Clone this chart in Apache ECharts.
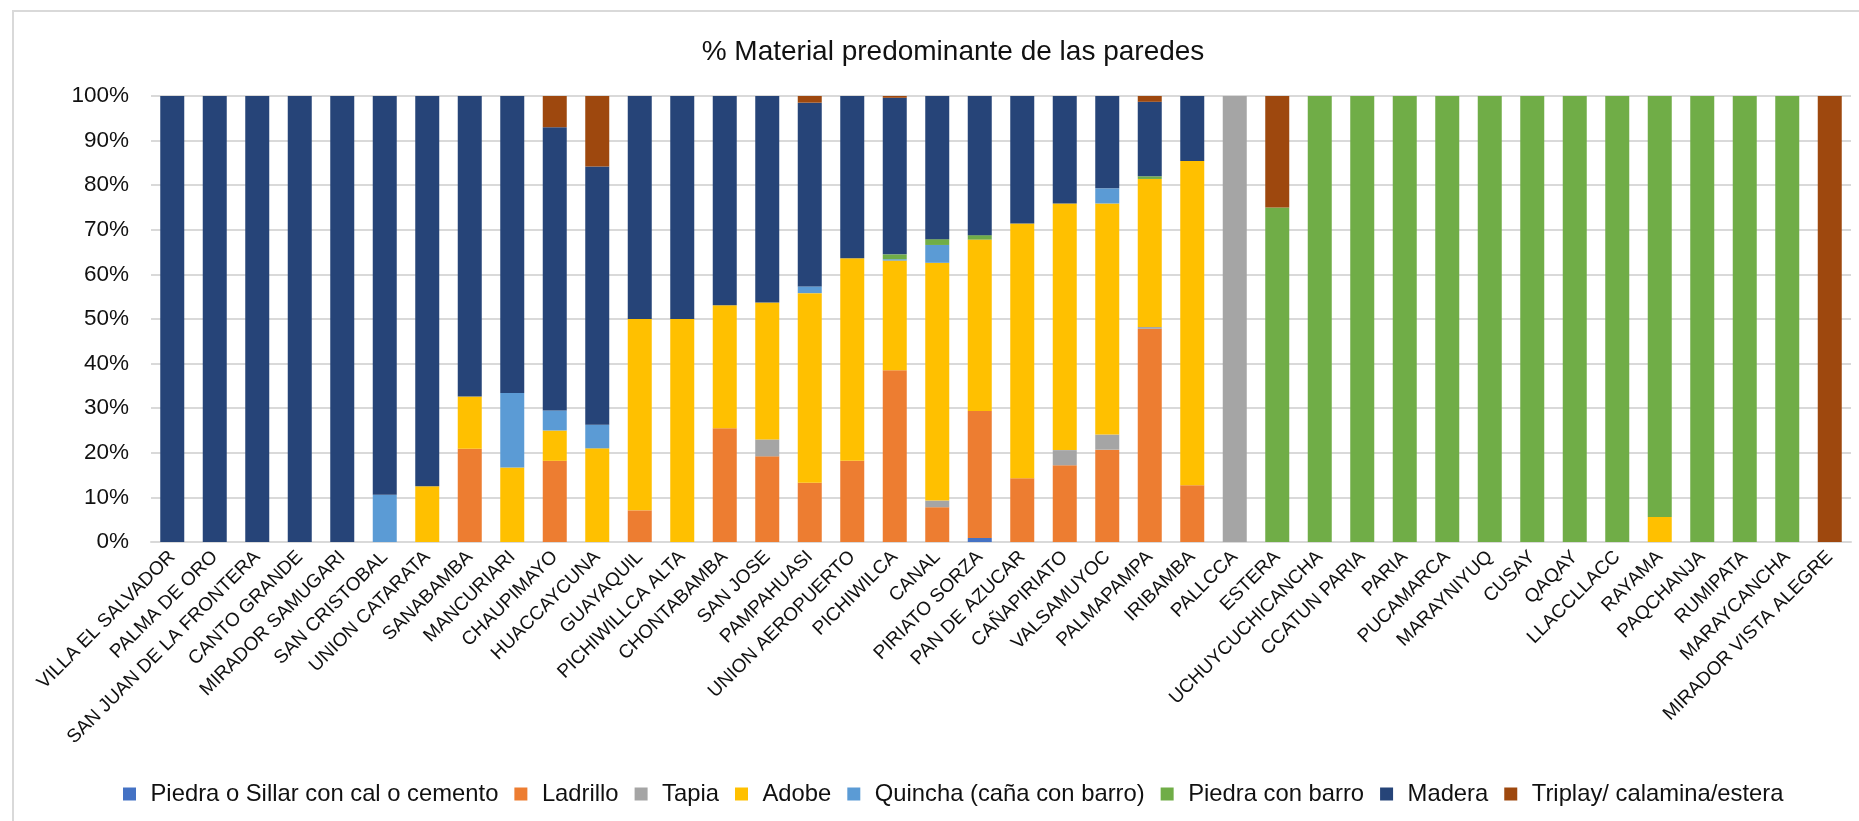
<!DOCTYPE html>
<html>
<head>
<meta charset="utf-8">
<title>% Material predominante de las paredes</title>
<script src="https://cdn.jsdelivr.net/npm/echarts@6/dist/echarts.min.js"></script>
<style>
  html, body { margin: 0; padding: 0; background: #fff; }
  #wrap { position: relative; width: 1859px; height: 821px; }
  #chart { width: 1859px; height: 821px; }
  #frame { position: absolute; left: 12px; top: 10px; right: 0; bottom: 0;
           border-top: 2px solid #d9d9d9; border-left: 2px solid #d9d9d9; pointer-events: none; }
</style>
</head>
<body>
<div id="wrap">
  <div id="chart"></div>
  <div id="frame"></div>
</div>
<script>
// categorias (localidades)
var categorias = ['VILLA EL SALVADOR', 'PALMA DE ORO', 'SAN JUAN DE LA FRONTERA', 'CANTO GRANDE',
  'MIRADOR SAMUGARI', 'SAN CRISTOBAL', 'UNION CATARATA', 'SANABAMBA', 'MANCURIARI', 'CHAUPIMAYO',
  'HUACCAYCUNA', 'GUAYAQUIL', 'PICHIWILLCA ALTA', 'CHONTABAMBA', 'SAN JOSE', 'PAMPAHUASI',
  'UNION AEROPUERTO', 'PICHIWILCA', 'CANAL', 'PIRIATO SORZA', 'PAN DE AZUCAR', 'CAÑAPIRIATO',
  'VALSAMUYOC', 'PALMAPAMPA', 'IRIBAMBA', 'PALLCCA', 'ESTERA', 'UCHUYCUCHICANCHA', 'CCATUN PARIA',
  'PARIA', 'PUCAMARCA', 'MARAYNIYUQ', 'CUSAY', 'QAQAY', 'LLACCLLACC', 'RAYAMA', 'PAQCHANJA',
  'RUMIPATA', 'MARAYCANCHA', 'MIRADOR VISTA ALEGRE'];

// porcentajes por material (mismo orden que categorias)
var piedraSillar = [0,0,0,0,0,0,0,0,0,0, 0,0,0,0,0,0,0,0,0,0.9, 0,0,0,0,0,0,0,0,0,0, 0,0,0,0,0,0,0,0,0,0];
var ladrillo     = [0,0,0,0,0,0,0,20.9,0,18.2, 0,7.1,0,25.5,19.2,13.3,18.2,38.5,7.8,28.5, 14.3,17.2,20.7,47.8,12.7,0,0,0,0,0, 0,0,0,0,0,0,0,0,0,0];
var tapia        = [0,0,0,0,0,0,0,0,0,0, 0,0,0,0,3.8,0,0,0,1.5,0, 0,3.4,3.4,0.4,0,100,0,0,0,0, 0,0,0,0,0,0,0,0,0,0];
var adobe        = [0,0,0,0,0,0,12.5,11.7,16.7,6.8, 21.0,42.9,50,27.6,30.7,42.5,45.4,24.6,53.3,38.4, 57.1,55.3,51.8,33.2,72.7,0,0,0,0,0, 0,0,0,0,0,5.6,0,0,0,0];
var quincha      = [0,0,0,0,0,10.6,0,0,16.7,4.5, 5.3,0,0,0,0,1.5,0,0.3,4.0,0, 0,0,3.4,0,0,0,0,0,0,0, 0,0,0,0,0,0,0,0,0,0];
var piedraBarro  = [0,0,0,0,0,0,0,0,0,0, 0,0,0,0,0,0,0,1.1,1.3,1.0, 0,0,0,0.6,0,0,75,100,100,100, 100,100,100,100,100,94.4,100,100,100,0];
var madera       = [100,100,100,100,100,89.4,87.5,67.4,66.6,63.5, 57.9,50,50,46.9,46.3,41.2,36.4,35.1,32.1,31.2, 28.6,24.1,20.7,16.7,14.6,0,0,0,0,0, 0,0,0,0,0,0,0,0,0,0];
var triplay      = [0,0,0,0,0,0,0,0,0,7.0, 15.8,0,0,0,0,1.5,0,0.4,0,0, 0,0,0,1.3,0,0,25,0,0,0, 0,0,0,0,0,0,0,0,0,100];

var yTicks = { min: 0, max: 100, interval: 10 };

var materiales = [
  { name: 'Piedra o Sillar con cal o cemento', data: piedraSillar, color: '#4472C4' },
  { name: 'Ladrillo', data: ladrillo, color: '#ED7D31' },
  { name: 'Tapia', data: tapia, color: '#A5A5A5' },
  { name: 'Adobe', data: adobe, color: '#FFC000' },
  { name: 'Quincha (caña con barro)', data: quincha, color: '#5B9BD5' },
  { name: 'Piedra con barro', data: piedraBarro, color: '#70AD47' },
  { name: 'Madera', data: madera, color: '#264478' },
  { name: 'Triplay/ calamina/estera', data: triplay, color: '#9E480E' }
];

var fuente = '"Liberation Sans", Arial, sans-serif';

var chart = echarts.init(document.getElementById('chart'), null, { renderer: 'canvas' });
chart.setOption({
  animation: false,
  textStyle: { fontFamily: fuente, color: '#111' },
  title: {
    text: '% Material predominante de las paredes',
    left: 948,
    textAlign: 'center',
    top: 33,
    textStyle: { fontFamily: fuente, fontSize: 28, fontWeight: 'normal', color: '#111' }
  },
  legend: {
    left: 118,
    top: 777,
    icon: 'rect',
    itemWidth: 13,
    itemHeight: 13,
    itemGap: 16,
    textStyle: { fontFamily: fuente, fontSize: 23.8, color: '#111', padding: [0, 0, 0, 9.5] },
    data: materiales.map(function (m) { return m.name; })
  },
  grid: { left: 151, right: 8, top: 96, bottom: 279, containLabel: false },
  xAxis: {
    type: 'category',
    data: categorias,
    axisTick: { show: false },
    axisLine: { lineStyle: { color: '#d9d9d9', width: 2 } },
    axisLabel: {
      interval: 0,
      rotate: 45,
      margin: 12,
      fontFamily: fuente,
      fontSize: 19,
      color: '#111'
    }
  },
  yAxis: {
    type: 'value',
    min: yTicks.min,
    max: yTicks.max,
    interval: yTicks.interval,
    axisLine: { show: false },
    axisTick: { show: false },
    splitLine: { lineStyle: { color: '#d9d9d9', width: 2 } },
    axisLabel: {
      formatter: '{value}%',
      margin: 22,
      fontFamily: fuente,
      fontSize: 22.5,
      color: '#111'
    }
  },
  series: materiales.map(function (m) {
    return {
      name: m.name,
      type: 'bar',
      stack: 'total',
      barWidth: 24,
      itemStyle: { color: m.color },
      data: m.data
    };
  })
});
</script>
</body>
</html>
